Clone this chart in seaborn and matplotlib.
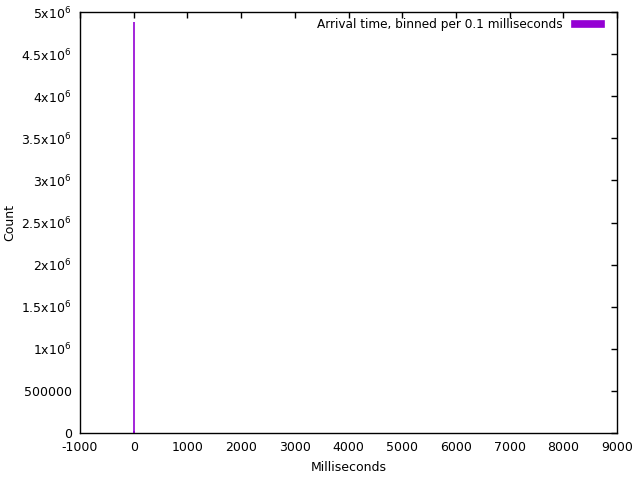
import matplotlib
matplotlib.use("Agg")
import matplotlib.pyplot as plt
import seaborn as sns

# arrival time histogram, bins of 0.1 ms
bin_ms = [0.0, 0.1, 0.2, 0.3]
counts = [4880000, 20000, 3000, 500]

yticks = [0, 500000, 1000000, 1500000, 2000000, 2500000, 3000000, 3500000, 4000000, 4500000, 5000000]
ylabels = ["0", "500000", "1x10$^6$", "1.5x10$^6$", "2x10$^6$", "2.5x10$^6$", "3x10$^6$",
           "3.5x10$^6$", "4x10$^6$", "4.5x10$^6$", "5x10$^6$"]
xticks = list(range(-1000, 10000, 1000))

sns.set_style("white")
plt.rcParams['font.family'] = ['DejaVu Sans']
plt.rcParams['font.size'] = 9
plt.rcParams['mathtext.default'] = 'regular'
plt.rcParams['text.color'] = 'black'
plt.rcParams['axes.labelcolor'] = 'black'

fig = plt.figure(figsize=(6.39, 4.78), dpi=100)
ax = fig.add_axes([80/639, 45/478, 537/639, 421/478])

ax.bar(bin_ms, counts, width=0.1, color="#9400d3", edgecolor="#9400d3", linewidth=1.2,
       label="Arrival time, binned per 0.1 milliseconds")

ax.set_xlim(-1000, 9000)
ax.set_ylim(0, 5000000)
ax.set_xticks(xticks)
ax.set_xticklabels([str(t) for t in xticks])
ax.set_yticks(yticks)
ax.set_yticklabels(ylabels)
ax.tick_params(direction="in", length=4.5, width=1, top=True, right=True, labeltop=False,
               labelright=False, pad=6, colors="black", labelcolor="black")
for s in ax.spines.values():
    s.set_color("black")
    s.set_linewidth(1)
ax.set_xlabel("Milliseconds", labelpad=5)
ax.set_ylabel("Count")
ax.yaxis.set_label_coords(-0.118, 0.5)

leg = ax.legend(loc="upper right", bbox_to_anchor=(0.993, 1.008), frameon=False,
                markerfirst=False, handlelength=2.6, handleheight=0.5,
                borderaxespad=0.4, fontsize=8.7)

fig.savefig("out.png", dpi=100)
